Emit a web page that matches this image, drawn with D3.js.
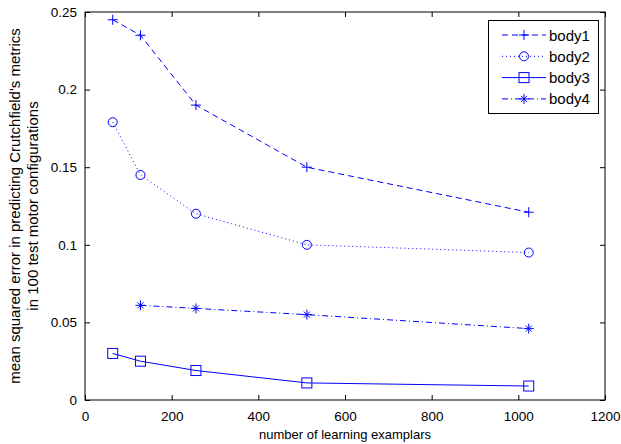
<!DOCTYPE html>
<html><head><meta charset="utf-8">
<script src="https://cdn.jsdelivr.net/npm/d3@7"></script>
<style>body{margin:0;background:#fff}svg{display:block}text{font-family:"Liberation Sans",Arial,sans-serif;}</style>
</head><body><div id="chart"></div>
<script>
const xValues = [64, 128, 256, 512, 1024];
const body1 = [0.245, 0.235, 0.19, 0.15, 0.121];
const body2 = [0.179, 0.145, 0.12, 0.10, 0.095];
const body3 = [0.030, 0.025, 0.019, 0.011, 0.009];
const body4 = [null, 0.061, 0.059, 0.055, 0.046];
const seriesNames = ["body1", "body2", "body3", "body4"];
const xTicks = [0, 200, 400, 600, 800, 1000, 1200];
const yTicks = [0, 0.05, 0.1, 0.15, 0.2, 0.25];
const yTickLabels = ["0", "0.05", "0.1", "0.15", "0.2", "0.25"];

const W = 621, H = 444;
const m = {l: 85, r: 16, t: 12, b: 44};
const svg = d3.select("#chart").append("svg").attr("width", W).attr("height", H);
const x = d3.scaleLinear().domain([0, 1200]).range([m.l, W - m.r]);
const y = d3.scaleLinear().domain([0, 0.25]).range([H - m.b, m.t]);
const color = "#0000ff";
const FONT = '"Liberation Sans",Arial,sans-serif';

// frame
svg.append("rect").attr("x", x(0)).attr("y", y(0.25)).attr("width", x(1200) - x(0)).attr("height", y(0) - y(0.25))
  .attr("fill", "none").attr("stroke", "#000").attr("stroke-width", 1);

const fmtY = d => yTickLabels[yTicks.indexOf(d)];
const ax = svg.append("g").attr("transform", `translate(0,${y(0)})`).call(d3.axisBottom(x).tickValues(xTicks).tickFormat(d3.format("d")).tickSizeInner(-5).tickSizeOuter(0).tickPadding(11));
const ay = svg.append("g").attr("transform", `translate(${x(0)},0)`).call(d3.axisLeft(y).tickValues(yTicks).tickFormat(fmtY).tickSizeInner(-5).tickSizeOuter(0).tickPadding(8));
const axT = svg.append("g").attr("transform", `translate(0,${y(0.25)})`).call(d3.axisTop(x).tickValues(xTicks).tickSizeInner(-5).tickSizeOuter(0).tickFormat(""));
const ayR = svg.append("g").attr("transform", `translate(${x(1200)},0)`).call(d3.axisRight(y).tickValues(yTicks).tickSizeInner(-5).tickSizeOuter(0).tickFormat(""));
[ax, ay, axT, ayR].forEach(g => {
  g.select(".domain").remove();
  g.selectAll("line").attr("stroke", "#000");
  g.selectAll("text").attr("font-size", 13.5).attr("fill", "#000").style("font-family", FONT);
});

svg.append("text").attr("x", x(600)).attr("y", 439).attr("text-anchor", "middle").attr("font-size", 13).text("number of learning examplars");
const yl = svg.append("text").attr("transform", `translate(0,${y(0.125)}) rotate(-90)`).attr("text-anchor", "middle").attr("font-size", 15);
yl.append("tspan").attr("x", 0).attr("y", 20).text("mean squared error in predicting Crutchfield's metrics");
yl.append("tspan").attr("x", 0).attr("y", 38).text("in 100 test motor configurations");

const dashes = ["6,4", "1,3", null, "6,3,1,3"];
const allData = [body1, body2, body3, body4];

function marker(g, kind, cx, cy) {
  if (kind === 0) {
    g.append("path").attr("d", `M${cx-5},${cy}H${cx+5}M${cx},${cy-5}V${cy+5}`).attr("stroke", color).attr("fill", "none");
  } else if (kind === 1) {
    g.append("circle").attr("cx", cx).attr("cy", cy).attr("r", 4.5).attr("stroke", color).attr("fill", "none");
  } else if (kind === 2) {
    g.append("rect").attr("x", cx-5).attr("y", cy-5).attr("width", 10).attr("height", 10).attr("stroke", color).attr("fill", "none");
  } else {
    g.append("path").attr("d", `M${cx-5},${cy}H${cx+5}M${cx},${cy-5}V${cy+5}M${cx-3},${cy-3}L${cx+3},${cy+3}M${cx-3},${cy+3}L${cx+3},${cy-3}`).attr("stroke", color).attr("fill", "none");
  }
}

allData.forEach((vals, i) => {
  const pts = xValues.map((xv, j) => ({x: xv, y: vals[j]})).filter(d => d.y !== null);
  const line = d3.line().x(d => x(d.x)).y(d => y(d.y));
  const p = svg.append("path").datum(pts).attr("d", line).attr("fill", "none").attr("stroke", color).attr("stroke-width", 1);
  if (dashes[i]) p.attr("stroke-dasharray", dashes[i]);
  const g = svg.append("g");
  pts.forEach(d => marker(g, i, x(d.x), y(d.y)));
});

// legend
const lg = svg.append("g");
lg.append("rect").attr("x", 488.5).attr("y", 20.5).attr("width", 110).attr("height", 93).attr("fill", "#fff").attr("stroke", "#000");
seriesNames.forEach((name, i) => {
  const ly = 35 + i * 21.3;
  const l = lg.append("line").attr("x1", 502).attr("x2", 546).attr("y1", ly).attr("y2", ly).attr("stroke", color);
  if (dashes[i]) l.attr("stroke-dasharray", dashes[i]);
  marker(lg, i, 524, ly);
  lg.append("text").attr("x", 549).attr("y", ly + 5.5).attr("font-size", 15).text(name);
});
</script></body></html>
